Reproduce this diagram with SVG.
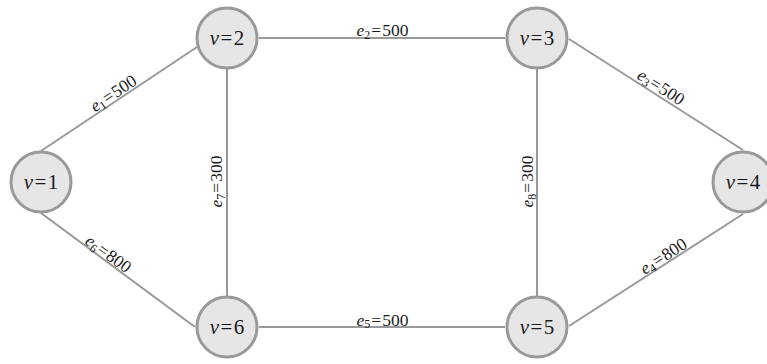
<svg xmlns="http://www.w3.org/2000/svg" width="767" height="364" viewBox="0 0 767 364">
<style>
.bg{fill:#ffffff}
.edge{stroke:#999999;stroke-width:2;fill:none;stroke-linecap:butt}
.node circle{fill:#e6e6e6;stroke:#999999;stroke-width:3}
text{font-family:'Liberation Serif','DejaVu Serif',serif;fill:#1a1a1a;text-anchor:middle}
.nl{font-size:21px}
.el{font-size:17.5px}
.it{font-style:italic}
.sub{font-size:12px}
</style>
<rect class="bg" x="0" y="0" width="767" height="364"/>
<g id="connectors">
  <line class="edge" x1="41" y1="151" x2="197" y2="47"/>
  <line class="edge" x1="259" y1="38" x2="505" y2="38"/>
  <line class="edge" x1="569" y1="39" x2="743" y2="150"/>
  <line class="edge" x1="743" y1="214" x2="569" y2="326"/>
  <line class="edge" x1="259" y1="327" x2="505" y2="327"/>
  <line class="edge" x1="41" y1="213" x2="195" y2="327"/>
  <line class="edge" x1="227" y1="69" x2="227" y2="296"/>
  <line class="edge" x1="537" y1="69" x2="537" y2="296"/>
  <text class="el" transform="translate(116.5,98) rotate(-33.7)"><tspan class="it">e</tspan><tspan class="sub" dy="2.5">1</tspan><tspan dy="-2.5" dx="1">=</tspan><tspan dx="1">500</tspan></text>
  <text class="el" x="382.5" y="36"><tspan class="it">e</tspan><tspan class="sub" dy="2.5">2</tspan><tspan dy="-2.5" dx="1">=</tspan><tspan dx="1">500</tspan></text>
  <text class="el" transform="translate(658,92) rotate(32.5)"><tspan class="it">e</tspan><tspan class="sub" dy="2.5">3</tspan><tspan dy="-2.5" dx="1">=</tspan><tspan dx="1">500</tspan></text>
  <text class="el" transform="translate(666.5,261) rotate(-32.8)"><tspan class="it">e</tspan><tspan class="sub" dy="2.5">4</tspan><tspan dy="-2.5" dx="1">=</tspan><tspan dx="1">800</tspan></text>
  <text class="el" x="382.5" y="325.5"><tspan class="it">e</tspan><tspan class="sub" dy="2.5">5</tspan><tspan dy="-2.5" dx="1">=</tspan><tspan dx="1">500</tspan></text>
  <text class="el" transform="translate(105,258.5) rotate(35.9)"><tspan class="it">e</tspan><tspan class="sub" dy="2.5">6</tspan><tspan dy="-2.5" dx="1">=</tspan><tspan dx="1">800</tspan></text>
  <text class="el" transform="translate(222,181.5) rotate(-90)"><tspan class="it">e</tspan><tspan class="sub" dy="2.5">7</tspan><tspan dy="-2.5" dx="1">=</tspan><tspan dx="1">300</tspan></text>
  <text class="el" transform="translate(533,181.5) rotate(-90)"><tspan class="it">e</tspan><tspan class="sub" dy="2.5">8</tspan><tspan dy="-2.5" dx="1">=</tspan><tspan dx="1">300</tspan></text>
</g>
<g id="v1" class="node"><circle cx="41" cy="182" r="30"/><text class="nl" x="41" y="189"><tspan class="it">v</tspan><tspan dx="1.5">=</tspan><tspan dx="1.5">1</tspan></text></g>
<g id="v2" class="node"><circle cx="227" cy="38" r="30"/><text class="nl" x="227" y="45"><tspan class="it">v</tspan><tspan dx="1.5">=</tspan><tspan dx="1.5">2</tspan></text></g>
<g id="v3" class="node"><circle cx="537" cy="38" r="30"/><text class="nl" x="537" y="45"><tspan class="it">v</tspan><tspan dx="1.5">=</tspan><tspan dx="1.5">3</tspan></text></g>
<g id="v4" class="node"><circle cx="743" cy="182" r="30"/><text class="nl" x="743" y="189"><tspan class="it">v</tspan><tspan dx="1.5">=</tspan><tspan dx="1.5">4</tspan></text></g>
<g id="v5" class="node"><circle cx="537" cy="327" r="30"/><text class="nl" x="537" y="334"><tspan class="it">v</tspan><tspan dx="1.5">=</tspan><tspan dx="1.5">5</tspan></text></g>
<g id="v6" class="node"><circle cx="227" cy="327" r="30"/><text class="nl" x="227" y="334"><tspan class="it">v</tspan><tspan dx="1.5">=</tspan><tspan dx="1.5">6</tspan></text></g>
</svg>
